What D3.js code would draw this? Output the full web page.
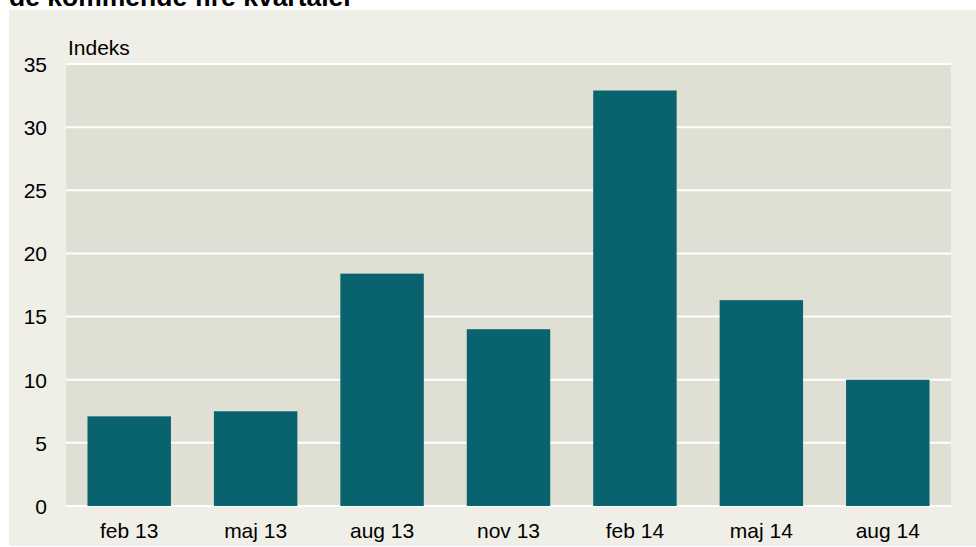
<!DOCTYPE html>
<html>
<head>
<meta charset="utf-8">
<script src="https://cdn.jsdelivr.net/npm/d3@7"></script>
<style>
  body { margin: 0; background: #ffffff; }
  svg { display: block; font-family: "Liberation Sans", Arial, sans-serif; }
</style>
</head>
<body>
<script>
const categories = ["feb 13", "maj 13", "aug 13", "nov 13", "feb 14", "maj 14", "aug 14"];
const values = [7.1, 7.5, 18.4, 14.0, 32.9, 16.3, 10.0];
const yTicks = [0, 5, 10, 15, 20, 25, 30, 35];
const titleText = "de kommende fire kvartaler";
const unitText = "Indeks";

const width = 976, height = 547;
const plot = {left: 66, right: 951, top: 64, bottom: 506};
const fontSize = 21;

const svg = d3.select("body").append("svg").attr("width", width).attr("height", height);

// outer panel
svg.append("rect").attr("x", 9).attr("y", 10).attr("width", width - 9).attr("height", height - 11).attr("fill", "#efeee7");

// title (clipped at top like the original)
svg.append("text").attr("x", 9).attr("y", 6)
  .attr("font-size", 26.5).attr("font-weight", "bold").attr("fill", "#000")
  .text(titleText);

// plot background
svg.append("rect").attr("x", plot.left).attr("y", plot.top)
  .attr("width", plot.right - plot.left).attr("height", plot.bottom - plot.top)
  .attr("fill", "#e0dfd4");

const x = d3.scaleBand().domain(categories).range([plot.left, plot.right]).paddingInner(0.34).paddingOuter(0.17);
const y = d3.scaleLinear().domain([0, 35]).range([plot.bottom, plot.top]);

// gridlines
svg.append("g").selectAll("line").data(yTicks).enter().append("line")
  .attr("x1", plot.left).attr("x2", plot.right)
  .attr("y1", d => y(d)).attr("y2", d => y(d))
  .attr("stroke", "#ffffff").attr("stroke-width", 2);

// bars
svg.append("g").selectAll("rect").data(values).enter().append("rect")
  .attr("x", (d, i) => x(categories[i]))
  .attr("y", d => y(d))
  .attr("width", x.bandwidth())
  .attr("height", d => y(0) - y(d))
  .attr("fill", "#08636f");

// y axis
const yAxis = d3.axisLeft(y).tickValues(yTicks).tickSize(0).tickPadding(0);
const gy = svg.append("g").attr("transform", "translate(47,0)").call(yAxis);
gy.select(".domain").remove();
gy.selectAll("text").attr("font-size", fontSize).attr("fill", "#000")
  .attr("font-family", "Liberation Sans, Arial, sans-serif").attr("dy", "0.35em");

// x axis
const xAxis = d3.axisBottom(x).tickSize(0).tickPadding(0);
const gx = svg.append("g").attr("transform", "translate(0,538)").call(xAxis);
gx.select(".domain").remove();
gx.selectAll("text").attr("font-size", fontSize).attr("fill", "#000")
  .attr("font-family", "Liberation Sans, Arial, sans-serif").attr("y", 0).attr("dy", 0);

// unit label
svg.append("text").attr("x", 68).attr("y", 55).attr("font-size", fontSize).attr("fill", "#000").text(unitText);
</script>
</body>
</html>
